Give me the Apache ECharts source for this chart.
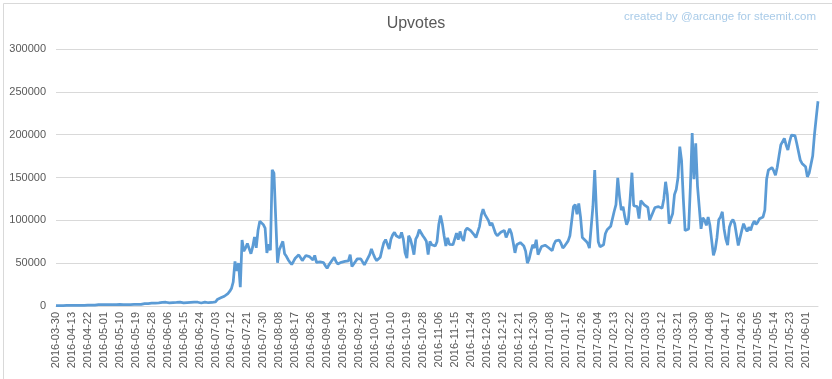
<!DOCTYPE html>
<html>
<head>
<meta charset="utf-8">
<script src="https://cdn.jsdelivr.net/npm/echarts@6/dist/echarts.min.js"></script>
<style>
html,body{margin:0;padding:0;background:#fff;}
#chart{width:832px;height:379px;}
</style>
</head>
<body>
<div id="chart"></div>
<script>
// First category, then daily categories (idx 9 = 2016-04-13 ... last = 2017-06-08)
const firstDate = '2016-03-30';
const dailyBase = '2016-04-04';
const pointCount = 431;

const upvotes = [
  300,400,300,500,400,500,600,500,600,700,
  600,700,800,700,800,900,800,900,1000,900,
  1000,1100,1000,1400,1500,1400,1600,1500,1500,1600,
  1500,1700,1600,1500,1700,1600,1800,1700,1600,1800,
  1700,1800,1700,1900,1800,1700,1900,1800,1900,2400,
  2800,3200,2900,3500,3300,3000,3400,3800,3600,3900,
  4200,4000,4400,4100,3600,3300,3900,4300,4100,3800,
  4500,4200,3700,3400,4000,4600,4300,3900,4500,4800,
  4400,3900,3500,4100,4600,4200,3800,4900,4100,3200,
  4700,7500,8600,9500,10500,11400,12500,14500,17000,20400,
  28000,52000,41000,50000,22000,77000,64000,68000,73000,67000,
  61000,69000,80500,68000,88000,99000,100000,95000,91000,62000,
  72000,65000,159000,155000,102000,50500,65500,63500,75500,61000,
  58000,54000,51000,48500,52000,55700,58000,59700,61000,53000,
  56000,59000,59000,57700,56000,53800,59000,51000,52600,51500,
  50700,50700,47000,44000,48000,50000,54000,57000,52000,49000,
  47000,51000,51500,52000,52300,52700,60000,46000,44000,52000,
  55000,56000,55000,53000,48000,49000,56000,60000,66500,61000,
  56000,53000,52000,57000,66000,74000,77500,79500,66500,78000,
  83000,86000,82000,80000,79500,86000,78000,62000,56000,82000,
  78000,70000,60000,78000,82000,89000,90000,82000,79000,75500,
  60000,75500,71500,70400,70000,75000,95000,105700,96000,82000,
  70000,79500,72000,70400,71500,70400,85000,77500,87000,79500,
  76000,88000,91000,90000,88000,86000,83000,80000,78000,93000,
  106000,113000,107000,108600,100000,94000,97000,95000,85000,82000,
  81000,86000,84400,88300,80000,78000,90000,85000,74000,62000,
  71500,69500,74000,73000,70000,64000,50000,55000,63700,71500,
  67600,77400,60000,58600,69500,70000,71000,69500,68000,66000,
  64500,72000,76000,78200,77000,73000,67600,70000,73000,76000,
  82000,84000,116000,118400,107000,119600,104000,80000,78000,76000,
  73500,67600,66400,116500,158700,110000,75000,69000,68000,71500,
  84400,89000,87000,93000,93000,110600,118400,149700,128000,112000,
  116000,104000,95000,100000,126000,155600,117000,117200,116000,102000,
  123000,121000,118000,116400,115000,100000,98000,110000,115000,116400,
  116000,118000,114000,125000,145000,130000,96000,94100,108000,130000,
  136000,150000,186000,170000,125000,88000,86300,90000,140000,202000,
  148000,190000,140000,115000,90000,103000,100000,94100,103900,94100,
  92000,59000,66000,80000,100800,104000,110000,90000,78000,71000,
  92000,98000,100800,96100,96900,70700,72600,88300,96100,91000,
  87000,92000,88300,95000,99200,95300,98000,101900,102000,104000,
  112000,148000,158600,160000,161700,158000,152700,162000,175000,188000,
  190000,195700,188000,182000,192000,199600,200800,199000,190000,180000,
  170300,166400,166400,162500,150800,155000,165000,175000,200000,220000,239000
];

function pad(n){return n<10?'0'+n:''+n;}
const categories = [firstDate];
const base = new Date(dailyBase + 'T00:00:00Z');
for (let i = 1; i < pointCount; i++) {
  const d = new Date(base.getTime() + i * 86400000);
  categories.push(d.getUTCFullYear() + '-' + pad(d.getUTCMonth()+1) + '-' + pad(d.getUTCDate()));
}

const FONT = 'Liberation Sans, Arial, sans-serif';
const chart = echarts.init(document.getElementById('chart'), null, {renderer:'canvas'});
chart.setOption({
  animation: false,
  backgroundColor: '#ffffff',
  title: {
    text: 'Upvotes',
    left: 'center',
    top: 11,
    textStyle: {fontFamily: FONT, fontSize: 16, fontWeight: 'normal', color: '#595959'}
  },
  graphic: [
    {type:'text', right: 16, top: 11, style:{text:'created by @arcange for steemit.com', fill:'#a9cbe8', font:'11.5px ' + FONT}},
    {type:'rect', left: 1, top: 1, shape:{width:829, height:376}, style:{fill:'none', stroke:'#d9d9d9', lineWidth:1}, silent:true}
  ],
  grid: {left: 56, right: 14, top: 49, bottom: 73, containLabel: false},
  xAxis: {
    type: 'category',
    boundaryGap: false,
    data: categories,
    axisLine: {show: true, lineStyle: {color: '#d9d9d9', width: 1}},
    axisTick: {show: false},
    axisLabel: {rotate: 90, interval: 8, fontFamily: FONT, fontSize: 11, color: '#595959', margin: 6},
    splitLine: {show: false}
  },
  yAxis: {
    type: 'value',
    min: 0, max: 300000, interval: 50000,
    axisLine: {show: false},
    axisTick: {show: false},
    axisLabel: {fontFamily: FONT, fontSize: 11, color: '#595959', margin: 10, formatter: function(v){return String(v);}},
    splitLine: {lineStyle: {color: '#d9d9d9', width: 1}}
  },
  series: [{
    type: 'line',
    data: upvotes,
    showSymbol: false,
    symbol: 'none',
    lineStyle: {color: '#5b9bd5', width: 2.75},
    itemStyle: {color: '#5b9bd5'}
  }]
});
</script>
</body>
</html>
